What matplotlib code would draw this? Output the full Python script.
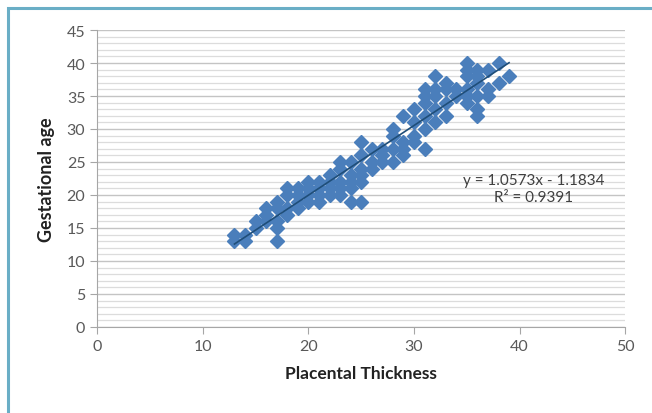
import matplotlib.pyplot as plt
from matplotlib.patches import Rectangle
from matplotlib.ticker import MultipleLocator

plt.rcParams['font.family'] = ['Lato', 'DejaVu Sans']

# Scatter points
thickness = [13, 13, 14, 14, 15, 15, 16, 16, 16, 17, 17, 17, 17, 17,
             18, 18, 18, 18, 19, 19, 19, 19, 20, 20, 20, 20, 21, 21, 21, 21,
             22, 22, 22, 22, 23, 23, 23, 23, 23, 24, 24, 24, 24, 24,
             25, 25, 25, 25, 25, 25, 26, 26, 26, 27, 27, 27,
             28, 28, 28, 28, 29, 29, 29, 29, 30, 30, 30, 30,
             31, 31, 31, 31, 31, 31, 32, 32, 32, 32, 32, 33, 33, 33, 33,
             34, 34, 35, 35, 35, 35, 35, 35, 36, 36, 36, 36, 36, 36,
             37, 37, 37, 38, 38, 39]
gest_age = [13, 14, 13, 14, 15, 16, 16, 17, 18, 13, 15, 16, 18, 19,
            17, 18, 20, 21, 18, 19, 20, 21, 19, 20, 21, 22, 19, 20, 21, 22,
            20, 21, 22, 23, 20, 21, 22, 24, 25, 19, 21, 22, 23, 25,
            19, 22, 23, 24, 26, 28, 24, 25, 27, 25, 26, 27,
            25, 27, 29, 30, 26, 27, 28, 32, 28, 29, 31, 33,
            27, 30, 32, 34, 35, 36, 31, 33, 35, 36, 38, 32, 34, 36, 37,
            35, 36, 34, 35, 36, 38, 39, 40, 32, 33, 35, 37, 38, 39,
            35, 36, 39, 37, 40, 38]

slope = 1.0573
intercept = -1.1834
r2 = 0.9391

fig = plt.figure(figsize=(6.52, 4.14), dpi=100)
ax = fig.add_axes([0.149, 0.208, 0.810, 0.717])

# frame around the chart
fig.patches.append(Rectangle((8 / 652, -0.1), 1.1, 1 - 9 / 414 + 0.1,
                             transform=fig.transFigure, fill=False,
                             edgecolor='#6aaec6', linewidth=2.2))

ax.plot(thickness, gest_age, linestyle='none', marker='D', markersize=7.6,
        color='#4a7ebb', markeredgecolor='#4a7ebb', zorder=3)

# linear trendline over the data range
xs = [min(thickness), max(thickness)]
ax.plot(xs, [slope * v + intercept for v in xs], color='#1f4e79',
        linewidth=1.2, zorder=4)

ax.text(0.826, 0.465, f'y = {slope}x - {abs(intercept)}\nR² = {r2}',
        transform=ax.transAxes, ha='center', va='center', fontsize=11,
        color='#404040', linespacing=1.25)

ax.set_xlim(0, 50)
ax.set_ylim(0, 45)
ax.xaxis.set_major_locator(MultipleLocator(10))
ax.yaxis.set_major_locator(MultipleLocator(5))
ax.yaxis.set_minor_locator(MultipleLocator(1))
ax.grid(axis='y', which='major', color='#c4c4c4', linewidth=1.0)
ax.grid(axis='y', which='minor', color='#dcdcdc', linewidth=0.9)
ax.set_axisbelow(True)

for s in ['top', 'right']:
    ax.spines[s].set_visible(False)
for s in ['left', 'bottom']:
    ax.spines[s].set_color('#a6a6a6')
ax.tick_params(which='major', color='#a6a6a6', length=5, labelsize=11.5,
               labelcolor='#595959')
ax.tick_params(axis='y', which='minor', length=0)

ax.set_xlabel('Placental Thickness', fontsize=12.5, fontweight='bold',
              color='#222222', labelpad=9)
ax.set_ylabel('Gestational age', fontsize=13, fontweight='bold',
              color='#222222', labelpad=8)

fig.savefig('out.png', dpi=100)
